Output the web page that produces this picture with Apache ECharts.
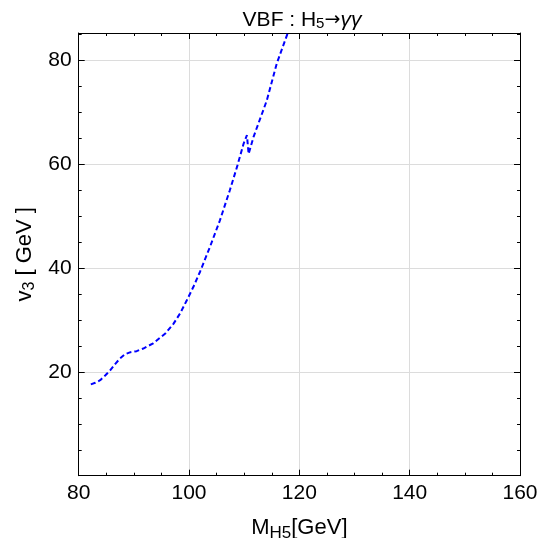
<!DOCTYPE html>
<html><head><meta charset="utf-8">
<script src="https://cdn.jsdelivr.net/npm/echarts@6/dist/echarts.min.js"></script>
<style>html,body{margin:0;padding:0;background:#fff}#c{width:539px;height:538px}</style>
</head><body><div id="c"></div>
<script>
var mass = [82.2, 83.0, 83.9, 84.8, 85.7, 86.6, 87.5, 88.4, 89.4, 90.5, 91.7, 93.5, 95.7, 97.2, 98.4, 99.6, 100.8, 102.0, 103.8, 105.6, 107.4, 108.7, 109.9, 110.5, 110.8, 111.7, 112.9, 114.1, 115.9, 118.2];
var v3 = [17.6, 17.9, 18.4, 19.3, 20.3, 21.5, 22.6, 23.4, 23.8, 24.0, 24.5, 25.5, 27.4, 29.3, 31.3, 33.8, 36.4, 39.3, 44.1, 49.2, 55.0, 59.5, 64.0, 65.6, 62.0, 65.3, 68.8, 72.3, 79.4, 86.2];
var xTicks = [80, 100, 120, 140, 160];
var yTicks = [20, 40, 60, 80];

var FONT = 'Liberation Sans, Arial, sans-serif';
var chart = echarts.init(document.getElementById('c'), null, {renderer: 'canvas'});
var axisCommon = {
  axisLine: {show: true, onZero: false, lineStyle: {color: '#000', width: 1}},
  axisTick: {show: true, inside: true, length: 6, lineStyle: {color: '#000'}},
  minorTick: {show: true, splitNumber: 4, length: 3, lineStyle: {color: '#000'}}
};
chart.setOption({
  animation: false,
  title: {
    text: 'VBF : H{sub|5}{ar|→}{it|γγ}',
    left: 297, top: 4, textAlign: 'center',
    textStyle: {
      fontFamily: FONT, fontSize: 21, fontWeight: 'normal', color: '#000',
      rich: {
        sub: {fontFamily: FONT, fontSize: 15, verticalAlign: 'bottom', padding: [7, 0, 0, 0], color: '#000'},
        ar: {fontFamily: 'DejaVu Sans, sans-serif', fontSize: 19, color: '#000'},
        it: {fontFamily: FONT, fontSize: 21, fontStyle: 'italic', color: '#000'}
      }
    }
  },
  grid: {left: 78.7, right: 19, top: 33, bottom: 62.3, containLabel: false, outerBoundsMode: 'none'},
  xAxis: [
    Object.assign({}, axisCommon, {
      type: 'value', min: 80, max: 160, interval: 20, position: 'bottom',
      axisLabel: {fontFamily: FONT, fontSize: 21, color: '#000', margin: 7,
        formatter: function (v) { return xTicks.indexOf(v) >= 0 ? String(v) : ''; }},
      splitLine: {show: true, lineStyle: {color: '#dcdcdc', width: 1}},
      name: 'M{sub|H5}[GeV]', nameLocation: 'middle', nameGap: 38,
      nameTextStyle: {fontFamily: FONT, fontSize: 22, color: '#000',
        rich: {sub: {fontFamily: FONT, fontSize: 17, verticalAlign: 'bottom', padding: [11, 0, 0, 0], color: '#000'}}}
    }),
    Object.assign({}, axisCommon, {
      type: 'value', min: 80, max: 160, interval: 20, position: 'top',
      axisLabel: {show: false}, splitLine: {show: false}
    })
  ],
  yAxis: [
    Object.assign({}, axisCommon, {
      type: 'value', min: 0, max: 85.3, interval: 20, position: 'left',
      axisLabel: {fontFamily: FONT, fontSize: 21, color: '#000', margin: 7,
        formatter: function (v) { return yTicks.indexOf(v) >= 0 ? String(v) : ''; }},
      splitLine: {show: true, lineStyle: {color: '#dcdcdc', width: 1}},
      name: 'v{sub|3} [ GeV ]', nameLocation: 'middle', nameGap: 40, nameRotate: 90,
      nameTextStyle: {fontFamily: FONT, fontSize: 22, color: '#000',
        rich: {sub: {fontFamily: FONT, fontSize: 16, verticalAlign: 'bottom', padding: [10, 0, 0, 0], color: '#000'}}}
    }),
    Object.assign({}, axisCommon, {
      type: 'value', min: 0, max: 85.3, interval: 20, position: 'right',
      axisLabel: {show: false}, splitLine: {show: false}
    })
  ],
  series: [{
    type: 'line',
    data: mass.map(function (m, i) { return [m, v3[i]]; }),
    showSymbol: false, symbol: 'none', clip: true,
    lineStyle: {color: '#0000ff', width: 2, type: [5, 3]}
  }]
});
</script></body></html>
